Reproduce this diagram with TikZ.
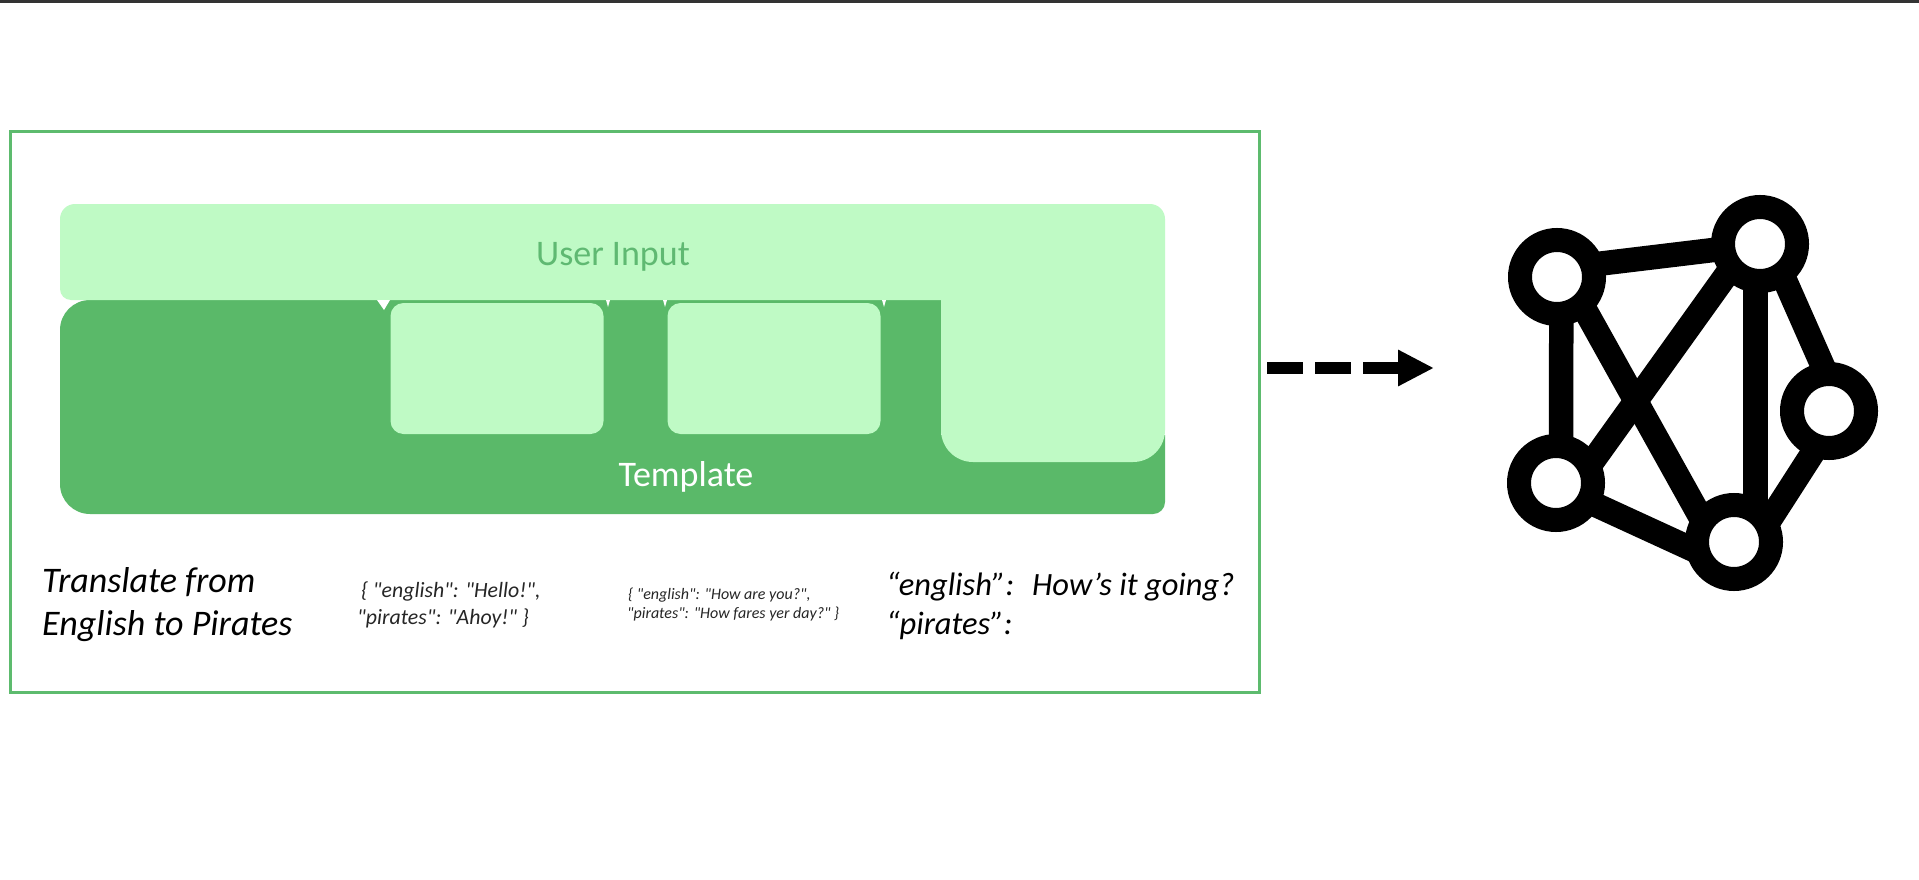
\documentclass[tikz,border=0pt]{standalone}
\usepackage{fontspec}
\setmainfont{Carlito}
\newfontfamily\rawfont{Carlito}
\usetikzlibrary{arrows.meta}
\definecolor{dkgreen}{HTML}{5AB969}
\definecolor{ltgreen}{HTML}{BFFAC5}
\definecolor{framegreen}{HTML}{5DBB6E}
\definecolor{inputtext}{HTML}{5FB972}
\tikzset{
  x=1pt,y=-1pt,
  slotbox/.style={fill=ltgreen,rounded corners=13pt,minimum width=213pt,minimum height=131pt,inner sep=0pt,outer sep=0pt},
  netnode/.style={circle,draw=black,fill=white,line width=24pt,minimum size=74pt,inner sep=0pt,outer sep=0pt},
  netedge/.style={draw=black,line width=24.5pt,shorten <=-16pt,shorten >=-16pt},
  notch/.style={fill=white},
  itxtbig/.style={font=\itshape\fontsize{36}{36}\selectfont,text=black,inner sep=0pt,anchor=base west},
  itxt/.style={font=\itshape\fontsize{32.5}{33}\selectfont,text=black,inner sep=0pt,anchor=base west},
  jsonone/.style={font=\rawfont\itshape\fontsize{21.8}{22}\selectfont,text=black!85,inner sep=0pt,anchor=base west},
  jsontwo/.style={font=\rawfont\itshape\fontsize{16}{16}\selectfont,text=black!85,inner sep=0pt,anchor=base west},
}
\begin{document}
\begin{tikzpicture}
\useasboundingbox (0,0) rectangle (1919,880);
\fill[white] (0,0) rectangle (1919,880);
\fill[black!80] (0,0) rectangle (1919,2.7);

% frame
\node[draw=framegreen,line width=3.5pt,minimum width=1249pt,minimum height=561pt,inner sep=0pt,outer sep=0pt] (frame) at (635,412) {};

% template shape
\fill[dkgreen] (941,300) [rounded corners=30pt] -- (60,300) -- (60,514) [rounded corners=12pt] -- (1165,514) [sharp corners] -- (1165,435) -- (941,435) -- cycle;
% user input shape
\fill[ltgreen] (600,204) [rounded corners=15pt] -- (1165,204) [rounded corners=32pt] -- (1165,462) -- (941,462) [sharp corners] -- (941,300) [rounded corners=11pt] -- (60,300) [rounded corners=15pt] -- (60,204) -- cycle;

% slots
\node[slotbox] (slotA) at (497,368.5) {};
\node[slotbox] (slotB) at (774,368.5) {};
\fill[notch] (377,300) -- (390,300) -- (384,310) -- cycle;
\fill[notch] (606,300) -- (610,300) -- (608,307) -- cycle;
\fill[notch] (663,300) -- (667,300) -- (665,307) -- cycle;
\fill[notch] (882,300) -- (886,300) -- (884,307) -- cycle;

% labels in the shapes
\node[font=\fontsize{36}{36}\selectfont,text=inputtext,inner sep=0pt] (userinput) at (613,257) {User Input};
\node[font=\fontsize{36}{36}\selectfont,text=white,inner sep=0pt] (template) at (686,477) {Template};

% texts below
\node[itxtbig] (t1) at (42,592) {Translate from};
\node[itxtbig] (t2) at (42,635) {English to Pirates};
\node[jsonone] (j1) at (361,597) {\{ "english": "Hello!",};
\node[jsonone] (j2) at (357,624) {"pirates": "Ahoy!" \}};
\node[jsontwo] (k1) at (628,599) {\{ "english": "How are you?",};
\node[jsontwo] (k2) at (627,618) {"pirates": "How fares yer day?" \}};
\node[itxt] (e1) at (886,595) {“english”:};
\node[itxt] (e2) at (1032,595) {How’s it going?};
\node[itxt] (p1) at (886,634) {“pirates”:};

% arrow
\coordinate (arrowfrom) at (1267,368);
\coordinate (arrowto) at (1434,368);
\draw[line width=12pt,dash pattern=on 36pt off 12pt,-{Triangle[length=36pt,width=34pt,sep=0pt]}] (arrowfrom) -- (arrowto);

% network
\coordinate (cA) at (1557,277);
\coordinate (cB) at (1760,244);
\coordinate (cC) at (1829,411);
\coordinate (cD) at (1556,483);
\coordinate (cE) at (1734,542);
\draw[netedge] ([shift={(46,-13.7)}]cA) -- ([shift={(-46.7,6)}]cB);
\draw[netedge] ([shift={(4.3,32.7)}]cA) -- ([shift={(5,-30)}]cD);
\draw[netedge] ([shift={(30.7,37.7)}]cA) -- ([shift={(-37.3,-31.7)}]cE);
\draw[netedge] ([shift={(-35.7,33.7)}]cB) -- ([shift={(40.7,-27.3)}]cD);
\draw[netedge] ([shift={(-4.3,26)}]cB) -- ([shift={(21.7,-25)}]cE);
\draw[netedge] ([shift={(26.7,40.3)}]cB) -- ([shift={(-7.7,-48.3)}]cC);
\draw[netedge] ([shift={(-18,44.7)}]cC) -- ([shift={(39.3,-27.7)}]cE);
\draw[netedge] ([shift={(42.7,23.3)}]cD) -- ([shift={(-46.7,5)}]cE);
\node[netnode] (A) at (cA) {};
\node[netnode] (B) at (cB) {};
\node[netnode] (C) at (cC) {};
\node[netnode] (D) at (cD) {};
\node[netnode] (E) at (cE) {};
\end{tikzpicture}
\end{document}
